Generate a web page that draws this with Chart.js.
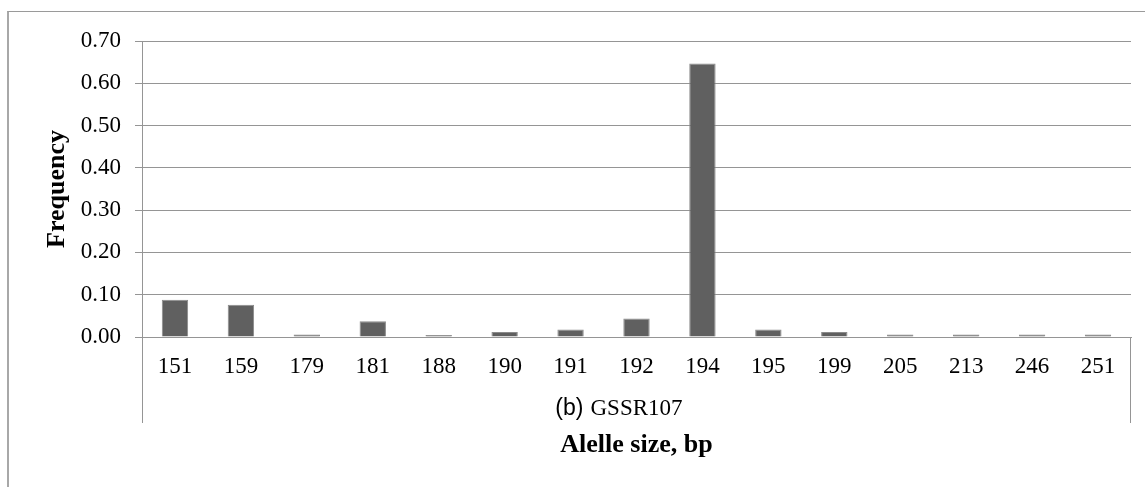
<!DOCTYPE html>
<html>
<head>
<meta charset="utf-8">
<script src="https://cdn.jsdelivr.net/npm/chart.js@4/dist/chart.umd.min.js"></script>
<style>
  html, body { margin: 0; padding: 0; background: #fff; overflow: hidden; }
  #frame {
    position: absolute; left: 7px; top: 11px; width: 2000px; height: 1000px;
    border-top: 1px solid #9a9a9a; border-left: 2px solid #a8a8a8;
  }
  #wrap { position: absolute; left: 0; top: 0; width: 1145px; height: 487px; }
</style>
</head>
<body>
<div id="frame"></div>
<div id="wrap"><canvas id="chart" width="1145" height="487"></canvas></div>
<script>
// Alelle sizes (bp) and their frequencies
const alleles = ["151", "159", "179", "181", "188", "190", "191", "192", "194", "195", "199", "205", "213", "246", "251"];
const frequency = [0.088, 0.076, 0.006, 0.037, 0.005, 0.012, 0.018, 0.044, 0.647, 0.018, 0.012, 0.006, 0.006, 0.006, 0.006];
const yTicks = [0, 0.1, 0.2, 0.3, 0.4, 0.5, 0.6, 0.7];
const groupPrefix = "(b)";
const groupName = "GSSR107";

const serif = "'Liberation Serif', 'Times New Roman', serif";
const sans = "'Liberation Sans', Arial, sans-serif";
const gridGray = "#959595";

// group label under the category labels, with the two edge lines
const groupPlugin = {
    id: "groupLabel",
    afterDraw(chart) {
        const ctx = chart.ctx;
        const area = chart.chartArea;
        const mid = (area.left + area.right) / 2;
        const y = area.bottom + 72;
        ctx.save();
        ctx.strokeStyle = gridGray;
        ctx.lineWidth = 1;
        ctx.beginPath();
        ctx.moveTo(area.left + 0.5, area.bottom);
        ctx.lineTo(area.left + 0.5, area.bottom + 86);
        ctx.moveTo(area.right - 0.5, area.bottom);
        ctx.lineTo(area.right - 0.5, area.bottom + 86);
        ctx.stroke();

        ctx.fillStyle = "#000";
        ctx.textBaseline = "middle";
        ctx.font = "23px " + serif;
        const w = ctx.measureText(groupName).width;
        ctx.textAlign = "center";
        ctx.fillText(groupName, mid, y);
        ctx.font = "23px " + sans;
        ctx.textAlign = "right";
        ctx.fillText(groupPrefix, mid - w / 2 - 7, y);
        ctx.restore();
    }
};

new Chart(document.getElementById("chart").getContext("2d"), {
    type: "bar",
    data: {
        labels: alleles,
        datasets: [{
            data: frequency,
            backgroundColor: "#606060",
            borderColor: "#8a8a8a",
            borderWidth: 1,
            barPercentage: 0.4,
            categoryPercentage: 1.0
        }]
    },
    options: {
        responsive: false,
        animation: false,
        layout: { padding: { top: 41, right: 14, bottom: 0, left: 0 } },
        plugins: { legend: { display: false }, tooltip: { enabled: false } },
        scales: {
            x: {
                grid: { display: false, drawTicks: false },
                border: { display: true, color: gridGray },
                ticks: { color: "#000", font: { family: serif, size: 23 }, padding: 16, maxRotation: 0, autoSkip: false },
                title: {
                    display: true, text: "Alelle size, bp", color: "#000",
                    font: { family: serif, size: 26, weight: "bold" },
                    padding: { top: 0, bottom: 26 }
                },
                afterFit(scale) { scale.height = 150; }
            },
            y: {
                min: 0, max: 0.7,
                afterBuildTicks(scale) { scale.ticks = yTicks.map(v => ({ value: v })); },
                grid: { color: gridGray, tickLength: 7 },
                border: { color: gridGray },
                ticks: {
                    color: "#000", padding: 14,
                    font: { family: serif, size: 23 },
                    callback: v => Number(v).toFixed(2)
                },
                title: {
                    display: true, text: "Frequency", color: "#000",
                    font: { family: serif, size: 26, weight: "bold" },
                    padding: { top: 42, bottom: 0 }
                },
                afterFit(scale) { scale.width = 142; }
            }
        }
    },
    plugins: [groupPlugin]
});
</script>
</body>
</html>
